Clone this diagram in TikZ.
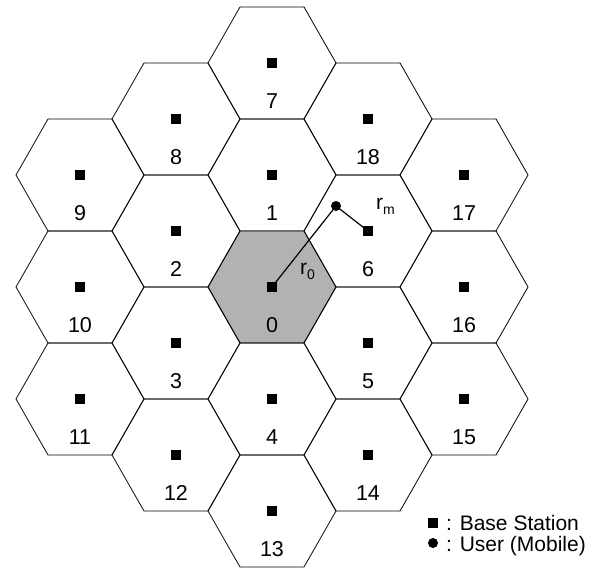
\documentclass[tikz,border=0pt]{standalone}
\usepackage{fontspec}
\setmainfont{Liberation Sans}
\usetikzlibrary{calc}
\begin{document}
\begin{tikzpicture}[x=1pt,y=-1pt,
  hexcell/.style={draw=black,line width=0.8pt},
  bs/.style={fill=black,draw=none,minimum size=9.5pt,inner sep=0pt,rectangle},
  usr/.style={fill=black,draw=none,circle,minimum size=10pt,inner sep=0pt},
  lbl/.style={font=\fontsize{21.5}{23}\selectfont,inner sep=0pt},
  leg/.style={font=\fontsize{21}{23}\selectfont,inner sep=0pt,anchor=west},
  sublbl/.style={font=\fontsize{21}{23}\selectfont,inner sep=0pt},
  link/.style={draw=black,line width=1.2pt}]
\useasboundingbox (0,0) rectangle (595,572);
\def\R{64}
\def\A{56}
% hex cells: name / column / y-offset in apothems
\foreach \n/\c/\k in {7/0/-4,1/0/-2,0/0/0,4/0/2,13/0/4,
                      8/-1/-3,2/-1/-1,3/-1/1,12/-1/3,
                      18/1/-3,6/1/-1,5/1/1,14/1/3,
                      9/-2/-2,10/-2/0,11/-2/2,
                      17/2/-2,16/2/0,15/2/2}{
  \coordinate (c\n) at ({272+96*\c},{287+\A*\k});
  \ifnum\n=0
    \fill[black!30] ($(c\n)+(\R,0)$) -- ++(-32,\A) -- ++(-64,0) -- ++(-32,-\A) -- ++(32,-\A) -- ++(64,0) -- cycle;
  \fi
  \draw[hexcell] ($(c\n)+(\R,0)$) -- ++(-32,\A) -- ++(-64,0) -- ++(-32,-\A) -- ++(32,-\A) -- ++(64,0) -- cycle;
}
\foreach \n in {0,...,18}{
  \node[bs] (bs\n) at (c\n) {};
  \node[lbl] (l\n) at ($(c\n)+(0,38)$) {\n};
}
\node[usr] (user) at (336,206) {};
\draw[link] (bs0.center) -- (user.center);
\draw[link] (user.center) -- (bs6.center);
\node[sublbl,anchor=west] (r0) at (300,271) {r\raisebox{-5pt}{\fontsize{14}{14}\selectfont 0}};
\node[sublbl,anchor=west] (rm) at (376,206) {r\raisebox{-5pt}{\fontsize{14}{14}\selectfont m}};
% legend
\node[bs] (legbs) at (433,523) {};
\node[usr] (legus) at (433,543) {};
\node[leg] (t1) at (446,523) {: Base Station};
\node[leg] (t2) at (446,546) {: User (Mobile)};
\end{tikzpicture}
\end{document}
